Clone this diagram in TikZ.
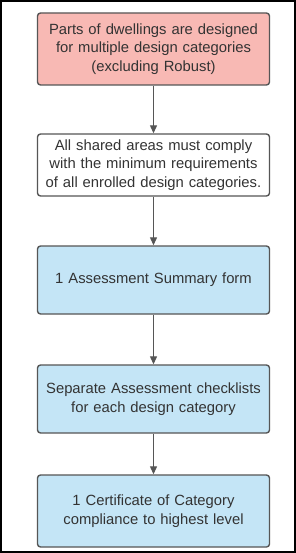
\documentclass[tikz,border=0pt]{standalone}
\usepackage{fontspec}
\setmainfont{Liberation Sans}
\usetikzlibrary{arrows.meta}
\definecolor{pinkfill}{HTML}{F8B9B4}
\definecolor{bluefill}{HTML}{C4E5F6}
\definecolor{edge}{HTML}{565656}
\definecolor{txt}{HTML}{333333}
\tikzset{
  box/.style={draw=edge, line width=1.4pt, rounded corners=3pt, minimum width=232pt, text width=230pt, align=center, text=txt, font=\fontsize{14.8}{18.5}\selectfont, inner sep=0pt},
  conn/.style={draw=edge, line width=1.2pt, -{Triangle[length=8pt,width=7pt]}}
}
\begin{document}
\begin{tikzpicture}[x=1pt,y=1pt]
\draw[line width=2pt, black, fill=white] (1,-1) rectangle (295,-552);
\useasboundingbox (0,0) rectangle (296,-553);
\node[box, fill=pinkfill, minimum height=72pt] (a) at (153.5,-49) {Parts of dwellings are designed\\for multiple design categories\\(excluding Robust)};
\node[box, fill=white, minimum height=62pt] (b) at (153.5,-165) {All shared areas must comply\\with the minimum requirements\\of all enrolled design categories.};
\node[box, fill=bluefill, minimum height=68pt] (c) at (153.5,-280) {1 Assessment Summary form};
\node[box, fill=bluefill, minimum height=68pt] (d) at (153.5,-399) {Separate Assessment checklists\\for each design category};
\node[box, fill=bluefill, minimum height=72pt] (e) at (153.5,-511) {1 Certificate of Category\\compliance to highest level};
\draw[conn] (a) -- (b);
\draw[conn] (b) -- (c);
\draw[conn] (c) -- (d);
\draw[conn] (d) -- (e);
\end{tikzpicture}
\end{document}
